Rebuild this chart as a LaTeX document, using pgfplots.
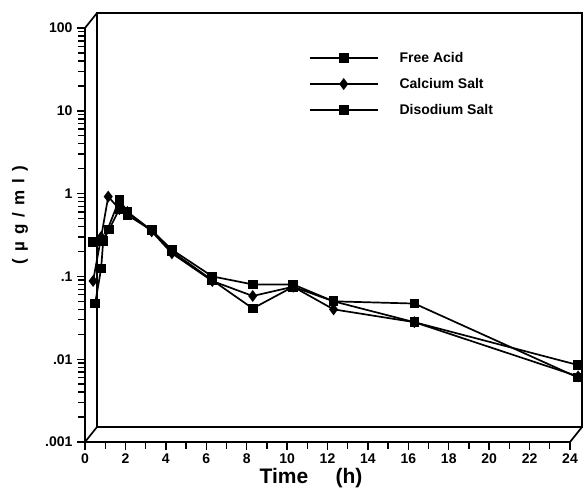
\documentclass[border=0pt]{standalone}
\usepackage{fontspec}
\setmainfont{Liberation Sans}
\usepackage{pgfplots}
\pgfplotsset{compat=1.18}
\begin{document}
\begin{tikzpicture}
\path[use as bounding box] (-85pt,-48pt) rectangle (500pt,442pt);
% back wall of the 3-D frame
\draw[line width=1.7pt] (12pt,15pt) rectangle (497pt,429pt);
\draw[line width=1.7pt] (0pt,0pt) -- (12pt,15pt);
\draw[line width=1.7pt] (0pt,414pt) -- (12pt,429pt);
\draw[line width=1.7pt] (485pt,0pt) -- (497pt,15pt);
\begin{axis}[
  at={(0pt,0pt)}, anchor=south west,
  scale only axis, width=485pt, height=414pt,
  ymode=log, xmin=0, xmax=24, ymin=0.001, ymax=100,
  axis x line*=bottom, axis y line*=left,
  axis line style={-, line width=2.2pt},
  tick align=outside, major tick length=8pt, minor tick length=6.5pt,
  tick style={line width=1.4pt, black},
  minor tick style={line width=1.4pt, black},
  xtick={0,2,...,24}, minor xtick={1,3,...,23},
  yminorticks=true,
  yticklabel={\pgfmathtruncatemacro\e{round(\tick/2.302585)}\ifcase\numexpr\e+3\relax .001\or .01\or .1\or 1\or 10\or 100\fi},
  /pgf/number format/assume math mode=true,
  ticklabel style={font=\bfseries\fontsize{14}{14}\selectfont},
  yticklabel style={xshift=-1pt},
  clip=false,
  xlabel={Time\hspace{1.3em}(h)},
  xlabel style={at={(axis description cs:0.466,-0.087)}, anchor=center, font=\bfseries\fontsize{21}{21}\selectfont},
  ylabel={(\hspace{0.42em}µ\hspace{0.42em}g\hspace{0.42em}/\hspace{0.42em}m\hspace{0.42em}l\hspace{0.42em})},
  ylabel style={at={(axis description cs:-0.134,0.548)}, anchor=center, font=\bfseries\fontsize{17}{17}\selectfont},
  legend cell align=left,
  legend style={at={(axis description cs:0.455,0.952)}, anchor=north west, draw=none, fill=none,
    font=\bfseries\fontsize{14}{15}\selectfont, row sep=10.5pt,
    /tikz/every odd column/.append style={column sep=19pt}},
  legend image code/.code={\draw[mark repeat=2,mark phase=2] plot coordinates {(0pt,0pt) (34pt,0pt) (68pt,0pt)};},
]
\addplot[black, line width=1.7pt, mark=square*, mark size=4pt, mark options={solid}] coordinates {
(0.5,0.047)(0.8,0.125)(0.9,0.27)(1.7,0.85)(2.1,0.6)(3.3,0.36)(4.3,0.2)(6.3,0.09)(8.3,0.041)(10.3,0.075)(12.3,0.05)(16.3,0.047)(24.4,0.006)};
\addlegendentry{Free Acid}
\addplot[black, line width=1.7pt, mark=diamond*, mark size=4.6pt, mark options={solid}] coordinates {
(0.4,0.088)(0.8,0.3)(1.15,0.92)(1.7,0.65)(2.1,0.6)(3.3,0.35)(4.3,0.19)(6.3,0.088)(8.3,0.058)(10.3,0.075)(12.3,0.04)(16.3,0.028)(24.4,0.0062)};
\addlegendentry{Calcium Salt}
\addplot[black, line width=1.7pt, mark=square*, mark size=4pt, mark options={solid}] coordinates {
(0.4,0.26)(0.9,0.27)(1.2,0.37)(1.7,0.65)(2.1,0.55)(3.3,0.36)(4.3,0.21)(6.3,0.1)(8.3,0.08)(10.3,0.08)(12.3,0.05)(16.3,0.028)(24.4,0.0085)};
\addlegendentry{Disodium Salt}
\end{axis}
\end{tikzpicture}
\end{document}
